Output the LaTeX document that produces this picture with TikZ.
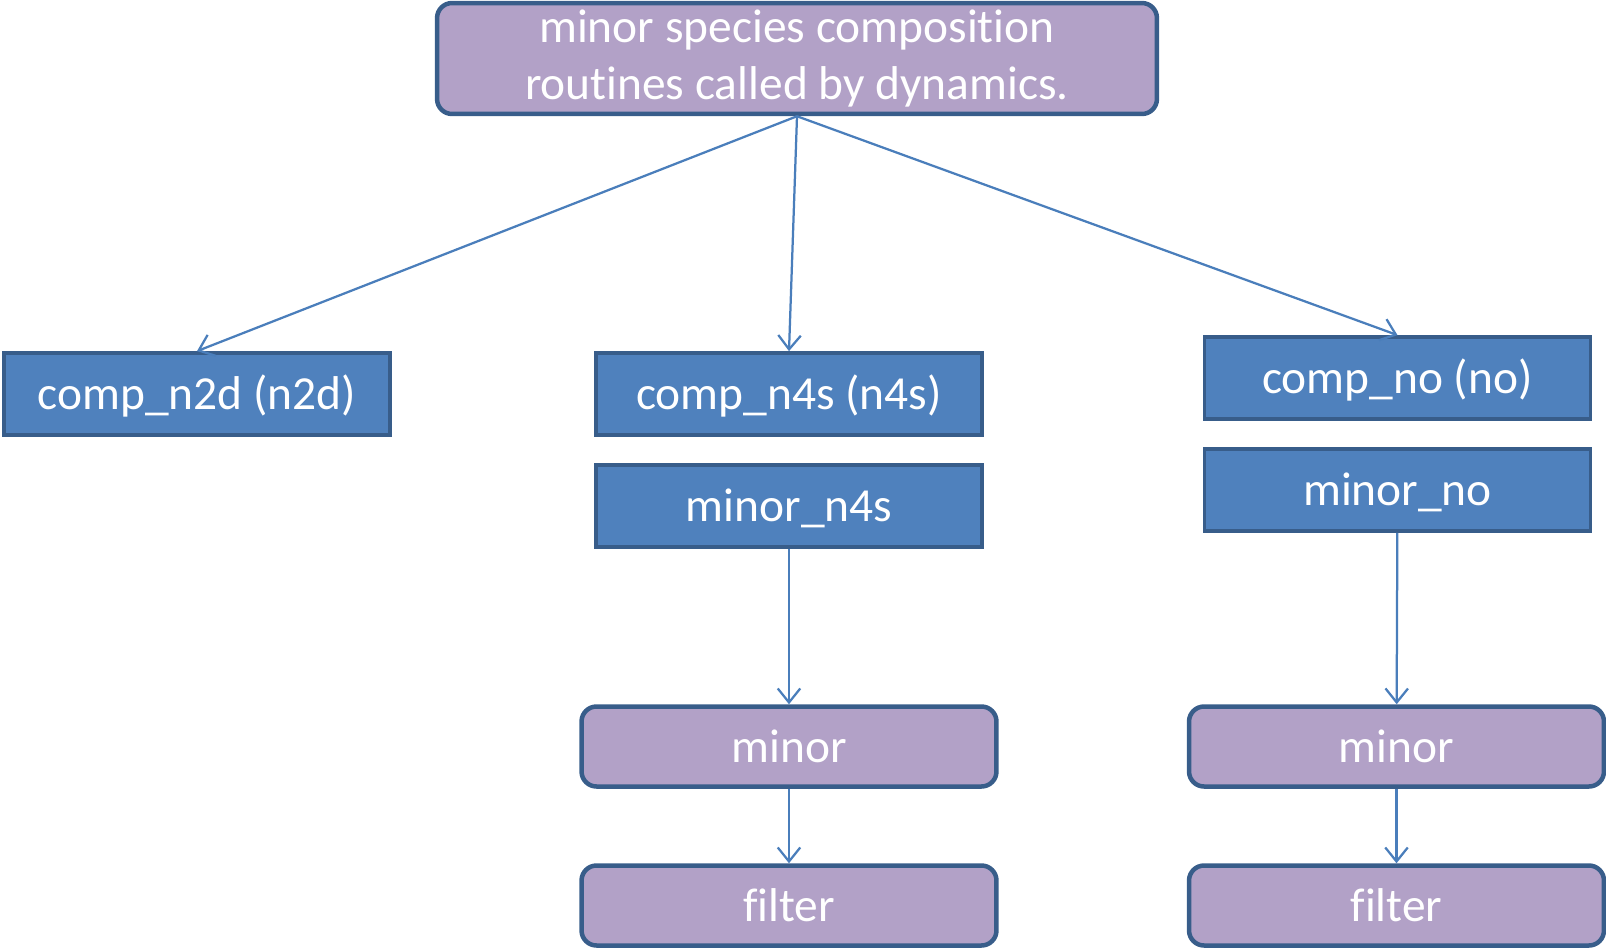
\documentclass[tikz,border=0pt]{standalone}
\usepackage{fontspec}
\setmainfont{Carlito}[Ligatures=NoCommon]
\usetikzlibrary{arrows.meta}
\definecolor{boxblue}{HTML}{4F81BD}
\definecolor{boxedge}{HTML}{385D8A}
\definecolor{boxpurple}{HTML}{B2A1C7}
\definecolor{arrowblue}{HTML}{4A7EBB}
\begin{document}
\begin{tikzpicture}[x=0.02cm,y=-0.02cm,
    module/.style={draw=boxedge,fill=boxblue,line width=0.075cm,text=white,
      minimum width=7.72cm,minimum height=1.64cm,inner sep=0pt,
      text height=24pt,text depth=6pt,
      font=\fontsize{27}{32}\selectfont},
    routine/.style={module,fill=boxpurple,line width=0.09cm,rounded corners=0.3cm,
      minimum width=8.3cm,minimum height=1.6cm},
    call/.style={draw=arrowblue,line width=0.045cm,
      -{Straight Barb[length=0.28cm,width=0.45cm]}}]
  \useasboundingbox (0,0) rectangle (1606,947);
  \draw
    (797,58.5) node[routine,align=center,minimum width=14.4cm,minimum height=2.22cm,
      text height=,text depth=] (dynamics) {minor species composition\\routines called by dynamics.}
    (197,394) node[module] (compn2d){comp\_n2d (n2d)}
    (789,394) node[module] (compn4s){comp\_n4s (n4s)}
    (789,506) node[module] (minorn4s){minor\_n4s}
    (1397.5,378) node[module] (compno){comp\_no (no)}
    (1397.5,490) node[module] (minorno){minor\_no}
    (789,746.5) node[routine] (minorA){minor}
    (789,905.5) node[routine] (filterA){filter}
    (1396.5,746.5) node[routine] (minorB){minor}
    (1396.5,905.5) node[routine] (filterB){filter};
  \begin{scope}[call]
    \draw (dynamics.south) to (compn2d.north);
    \draw (dynamics.south) to (compn4s.north);
    \draw (dynamics.south) to (compno.north);
    \draw (minorn4s) to (minorA);
    \draw (minorA) to (filterA);
    \draw (minorno) to (minorB);
    \draw (minorB) to (filterB);
  \end{scope}
\end{tikzpicture}
\end{document}
